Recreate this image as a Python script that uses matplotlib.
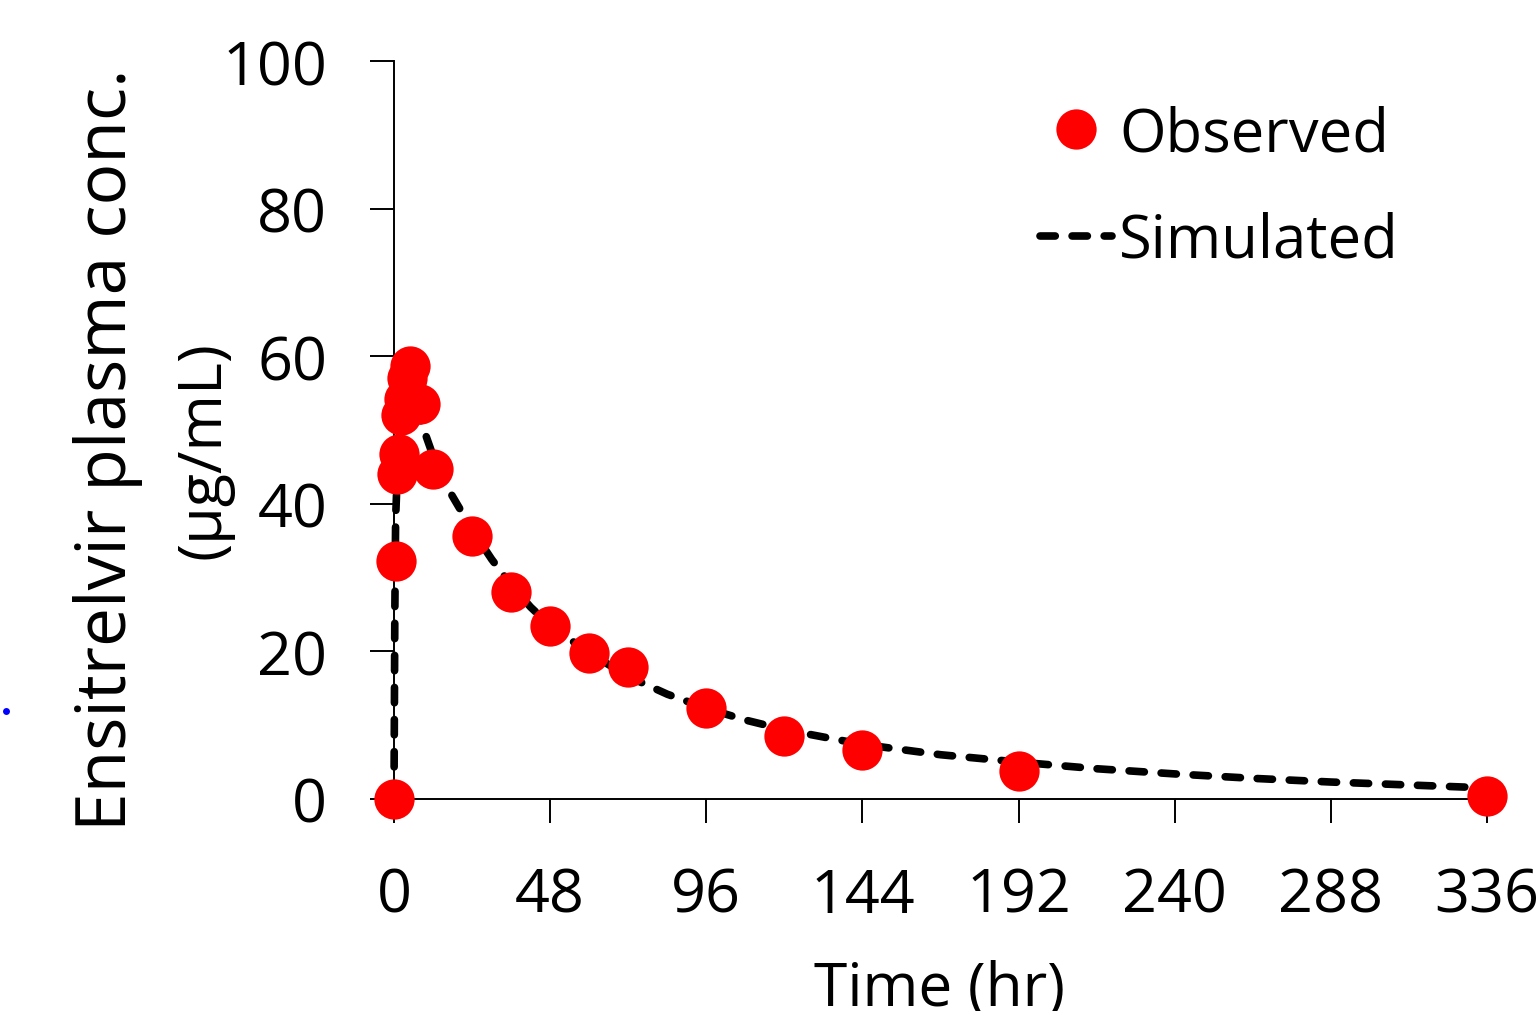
import matplotlib
matplotlib.use("Agg")
import matplotlib.pyplot as plt
from matplotlib.lines import Line2D

plt.rcParams['font.family'] = ['Open Sans', 'DejaVu Sans']

# Observed data
obs_time = [0, 0.5, 1, 1.5, 2, 3, 4, 5, 8, 12, 24, 36, 48, 60, 72, 96, 120, 144, 192, 336]
obs_conc = [0, 32.2, 44.0, 46.7, 52.0, 54.2, 57.0, 58.7, 53.5, 44.7, 35.6, 28.0, 23.4, 19.8, 17.9,
            12.3, 8.5, 6.6, 3.8, 0.4]

# Simulated profile
sim_time = [0, 0.1, 0.25, 0.5, 1, 1.5, 2, 3, 4, 6, 8, 10, 12, 16, 20, 24, 30, 36, 42, 48, 60, 72,
            84, 96, 108, 120, 144, 168, 192, 216, 240, 264, 288, 312, 336]
sim_conc = [0, 10, 25, 38, 44, 48, 51, 53.5, 54.5, 54, 51.5, 49, 46.5, 42.5, 39.5, 36.5, 32.5, 29,
            26, 23.5, 19.8, 16.6, 14.2, 12.3, 10.7, 9.4, 7.4, 6.0, 5.0, 4.1, 3.4, 2.8, 2.3, 1.9, 1.5]

xticks = [0, 48, 96, 144, 192, 240, 288, 336]
yticks = [0, 20, 40, 60, 80, 100]

LW = 5.5
DASH = (0, (2.0, 2.2))

fig = plt.figure(figsize=(15.37, 10.12), dpi=100)
ax = fig.add_axes([394/1537, 1-800/1012, (1487-394)/1537, (800-62)/1012])

ax.plot(sim_time, sim_conc, color='black', lw=LW, linestyle=DASH,
        dash_capstyle='round', label='Simulated', zorder=2, clip_on=False)
ax.plot(obs_time, obs_conc, 'o', color='#ff0000', markersize=29, markeredgewidth=0,
        label='Observed', zorder=3, clip_on=False)

ax.set_xlim(0, 336)
ax.set_ylim(0, 100)
ax.set_xticks(xticks)
ax.set_yticks(yticks)
ax.tick_params(axis='both', direction='out', length=17, width=1.4, labelsize=44, color='black')
ax.tick_params(axis='x', pad=31)
ax.tick_params(axis='y', pad=31)
for s in ['top', 'right']:
    ax.spines[s].set_visible(False)
for s in ['left', 'bottom']:
    ax.spines[s].set_linewidth(1.4)

fig.text(108/1537, 1-450/1012, 'Ensitrelvir plasma conc.', rotation=90, fontsize=50,
         ha='center', va='center')
fig.text(203/1537, 1-450/1012, '(µg/mL)', rotation=90, fontsize=44,
         ha='center', va='center')
fig.text(940/1537, 1-990/1012, 'Time (hr)', fontsize=43.5, ha='center', va='center')

handles = [Line2D([], [], marker='o', color='#ff0000', linestyle='none', markersize=29, markeredgewidth=0),
           Line2D([], [], color='black', lw=LW, linestyle=DASH, dash_capstyle='round')]
ax.legend(handles, ['Observed', 'Simulated'], loc='upper left', bbox_to_anchor=(1040/1537, 1-105/1012),
          bbox_transform=fig.transFigure, frameon=False, fontsize=43, handlelength=1.2,
          handletextpad=0.13, labelspacing=0.78, borderpad=0, borderaxespad=0)

# small blue dot at left edge
fig.add_artist(Line2D([6/1537], [1-712/1012], marker='o', color='#0000ff', markersize=5,
                      markeredgewidth=0, transform=fig.transFigure))

fig.savefig('out.png', dpi=100)
